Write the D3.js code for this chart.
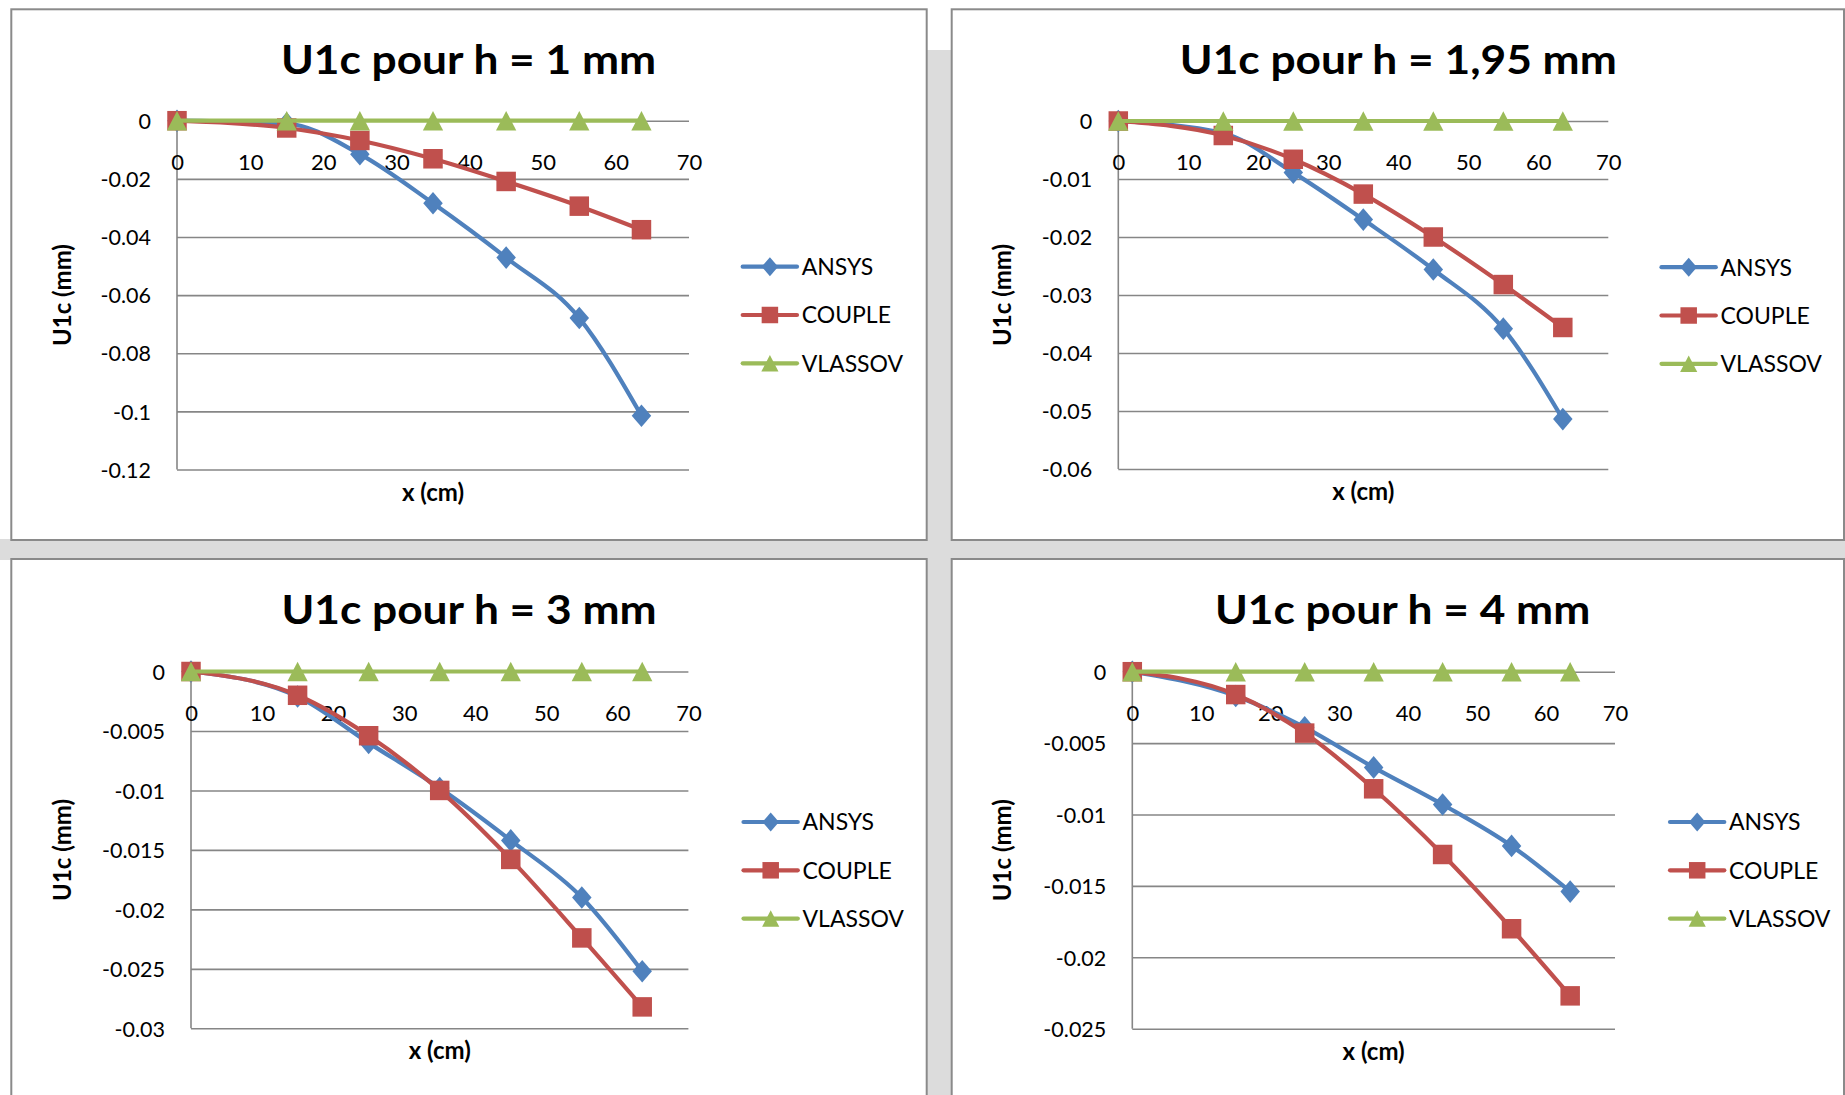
<!DOCTYPE html>
<html>
<head>
<meta charset="utf-8">
<script src="https://cdn.jsdelivr.net/npm/d3@7"></script>
<style>
  html, body { margin: 0; padding: 0; background: #fff; overflow: hidden; }
  text { font-family: Lato, "Open Sans", sans-serif; fill: #000; }
</style>
</head>
<body>
<svg id="chart" width="1845" height="1095"></svg>
<script>
// Positions along the beam (cm) where U1c was evaluated
const xPositions = [0, 15, 25, 35, 45, 55, 63.5];
const xTicks = [0, 10, 20, 30, 40, 50, 60, 70];

const seriesNames = ["ANSYS", "COUPLE", "VLASSOV"];
const seriesColors = ["#4F81BD", "#C0504D", "#9BBB59"];
const seriesMarkers = ["diamond", "square", "triangle"];

const chartTitles = ["U1c pour h = 1 mm", "U1c pour h = 1,95 mm", "U1c pour h = 3 mm", "U1c pour h = 4 mm"];
const xAxisTitle = "x (cm)";
const yAxisTitle = "U1c (mm)";

// U1c (mm) for h = 1 mm
const ansysH1   = [0, -0.0010, -0.0115, -0.0284, -0.0471, -0.0679, -0.1015];
const coupleH1  = [0, -0.0025, -0.0068, -0.0131, -0.0209, -0.0294, -0.0375];
const vlassovH1 = [0, 0, 0, 0, 0, 0, 0];
// U1c (mm) for h = 1,95 mm
const ansysH195   = [0, -0.0021, -0.0089, -0.0170, -0.0256, -0.0358, -0.0514];
const coupleH195  = [0, -0.0025, -0.0066, -0.0126, -0.0200, -0.0282, -0.0356];
const vlassovH195 = [0, 0, 0, 0, 0, 0, 0];
// U1c (mm) for h = 3 mm
const ansysH3   = [0, -0.0021, -0.0060, -0.0098, -0.0142, -0.0190, -0.0252];
const coupleH3  = [0, -0.0020, -0.0054, -0.0100, -0.0158, -0.0224, -0.0282];
const vlassovH3 = [0, 0, 0, 0, 0, 0, 0];
// U1c (mm) for h = 4 mm
const ansysH4   = [0, -0.0017, -0.0039, -0.0067, -0.0093, -0.0122, -0.0154];
const coupleH4  = [0, -0.0016, -0.0043, -0.0082, -0.0128, -0.0180, -0.0227];
const vlassovH4 = [0, 0, 0, 0, 0, 0, 0];

// Value-axis ticks of each chart
const yTicksH1   = [0, -0.02, -0.04, -0.06, -0.08, -0.1, -0.12];
const yTicksH195 = [0, -0.01, -0.02, -0.03, -0.04, -0.05, -0.06];
const yTicksH3   = [0, -0.005, -0.01, -0.015, -0.02, -0.025, -0.03];
const yTicksH4   = [0, -0.005, -0.01, -0.015, -0.02, -0.025];

// Frame and plot-area geometry of the four charts
const panels = [
  { title: chartTitles[0], series: [ansysH1, coupleH1, vlassovH1], yTicks: yTicksH1,
    box: { x: 11.3, y: 9.3, w: 915.4, h: 530.7 },
    plot: { l: 177, r: 689, t: 120.7, b: 469.5 },
    titleX: 468.5, legendX: 742.7, legendY: 266.7 },
  { title: chartTitles[1], series: [ansysH195, coupleH195, vlassovH195], yTicks: yTicksH195,
    box: { x: 951.7, y: 9.3, w: 892.3, h: 530.7 },
    plot: { l: 1118.3, r: 1608.3, t: 121, b: 469 },
    titleX: 1398.3, legendX: 1661.5, legendY: 267.2 },
  { title: chartTitles[2], series: [ansysH3, coupleH3, vlassovH3], yTicks: yTicksH3,
    box: { x: 11.3, y: 559, w: 915.4, h: 600 },
    plot: { l: 191, r: 688.4, t: 671.5, b: 1028.3 },
    titleX: 469, legendX: 743.5, legendY: 822 },
  { title: chartTitles[3], series: [ansysH4, coupleH4, vlassovH4], yTicks: yTicksH4,
    box: { x: 951.7, y: 559, w: 892.3, h: 600 },
    plot: { l: 1132.3, r: 1615, t: 671.7, b: 1028.7 },
    titleX: 1402.6, legendX: 1670, legendY: 822 }
];

const svg = d3.select("#chart");
const gridColor = "#868686";
const lineWidth = 4.2;

// Grey backdrop visible between the chart frames
svg.append("rect").attr("x", 0).attr("y", 539).attr("width", 1845).attr("height", 21).attr("fill", "#dcdcdc");
svg.append("rect").attr("x", 926).attr("y", 50).attr("width", 27).attr("height", 1045).attr("fill", "#dcdcdc");

function markerPath(kind, s) {
  if (kind === "diamond") {
    const w = s * 0.5, h = s * 0.58;
    return `M0,${-h}L${w},0L0,${h}L${-w},0Z`;
  }
  if (kind === "square") {
    const h = s / 2;
    return `M${-h},${-h}H${h}V${h}H${-h}Z`;
  }
  const w = s * 0.52, h = s * 0.5;
  return `M0,${-h}L${w},${h}L${-w},${h}Z`;
}

panels.forEach(p => {
  const g = svg.append("g");

  g.append("rect")
    .attr("x", p.box.x).attr("y", p.box.y)
    .attr("width", p.box.w).attr("height", p.box.h)
    .attr("fill", "#fff").attr("stroke", "#8a8a8a").attr("stroke-width", 2);

  const x = d3.scaleLinear().domain([0, 70]).range([p.plot.l, p.plot.r]);
  const y = d3.scaleLinear().domain([d3.min(p.yTicks), 0]).range([p.plot.b, p.plot.t]);

  // horizontal gridlines
  const grid = g.append("g")
    .attr("transform", `translate(${p.plot.l},0)`)
    .call(d3.axisLeft(y).tickValues(p.yTicks).tickSize(-(p.plot.r - p.plot.l)).tickFormat(""));
  grid.select(".domain").remove();
  grid.selectAll("line").attr("stroke", gridColor).attr("stroke-width", 1.6);

  // value axis labels
  const yAxis = g.append("g")
    .attr("transform", `translate(${p.plot.l},0)`)
    .call(d3.axisLeft(y).tickValues(p.yTicks).tickSize(0).tickPadding(26).tickFormat(d => String(d)));
  yAxis.select(".domain").remove();
  yAxis.selectAll("text").attr("font-family", "Lato").attr("font-size", 21.5).attr("fill", "#000").attr("dy", "0.36em");

  // vertical axis line
  g.append("line")
    .attr("x1", p.plot.l).attr("x2", p.plot.l)
    .attr("y1", y(0)).attr("y2", p.plot.b)
    .attr("stroke", gridColor).attr("stroke-width", 1.6);

  // category axis labels sit below the zero line
  const xAxis = g.append("g")
    .attr("transform", `translate(0,${y(0)})`)
    .call(d3.axisBottom(x).tickValues(xTicks).tickSize(0).tickPadding(33.5).tickFormat(d => String(d)));
  xAxis.select(".domain").remove();
  xAxis.selectAll("text").attr("font-family", "Lato").attr("font-size", 22).attr("fill", "#000");

  // titles
  g.append("text")
    .attr("transform", `translate(${p.titleX},${p.box.y + 64.5}) scale(1.08,1)`)
    .attr("text-anchor", "middle")
    .attr("font-weight", "bold").attr("font-size", 41)
    .text(p.title);

  g.append("text")
    .attr("x", (p.plot.l + p.plot.r) / 2).attr("y", p.plot.b + 31)
    .attr("text-anchor", "middle")
    .attr("font-weight", "bold").attr("font-size", 24)
    .text(xAxisTitle);

  g.append("text")
    .attr("transform", `translate(${p.box.x + 59.5},${(p.plot.t + p.plot.b) / 2}) rotate(-90)`)
    .attr("text-anchor", "middle")
    .attr("font-weight", "bold").attr("font-size", 24)
    .text(yAxisTitle);

  // series: smoothed line then its markers
  const line = d3.line()
    .x((d, i) => x(xPositions[i]))
    .y(d => y(d))
    .curve(d3.curveMonotoneX);

  p.series.forEach((vals, si) => {
    g.append("path")
      .attr("d", line(vals))
      .attr("fill", "none")
      .attr("stroke", seriesColors[si])
      .attr("stroke-width", lineWidth)
      .attr("stroke-linejoin", "round")
      .attr("stroke-linecap", "round");
    g.selectAll(null).data(vals).enter().append("path")
      .attr("transform", (d, i) => `translate(${x(xPositions[i])},${y(d)})`)
      .attr("d", markerPath(seriesMarkers[si], 19.5))
      .attr("fill", seriesColors[si]);
  });

  // legend
  seriesNames.forEach((name, si) => {
    const ly = p.legendY + si * 48.3;
    g.append("line")
      .attr("x1", p.legendX).attr("x2", p.legendX + 54.3)
      .attr("y1", ly).attr("y2", ly)
      .attr("stroke", seriesColors[si]).attr("stroke-width", lineWidth)
      .attr("stroke-linecap", "round");
    g.append("path")
      .attr("transform", `translate(${p.legendX + 27.2},${ly})`)
      .attr("d", markerPath(seriesMarkers[si], 16.5))
      .attr("fill", seriesColors[si]);
    g.append("text")
      .attr("x", p.legendX + 59).attr("y", ly + 8.3)
      .attr("font-size", 23)
      .text(name);
  });
});
</script>
</body>
</html>
